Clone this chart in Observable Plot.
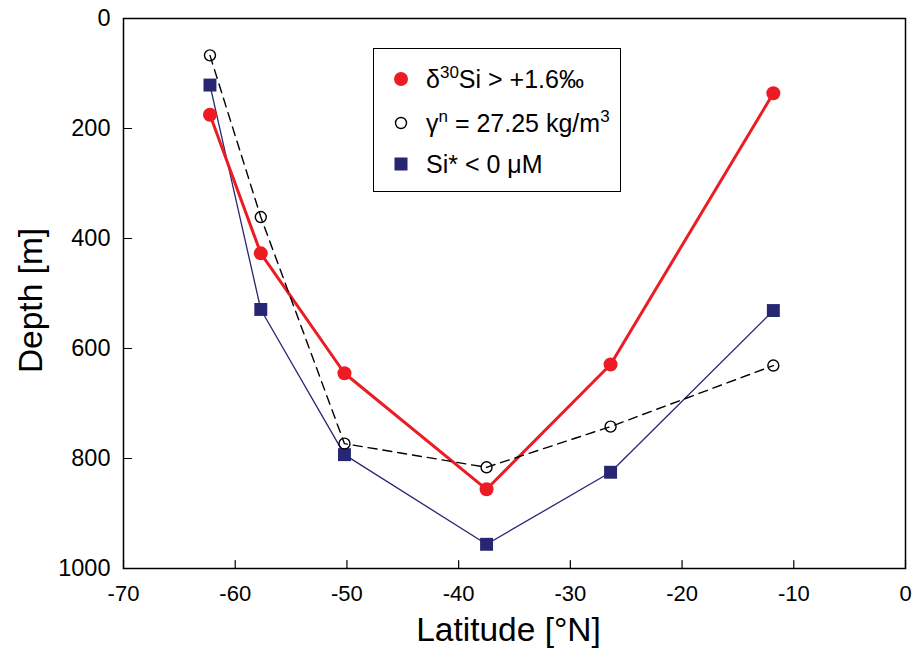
<!DOCTYPE html>
<html>
<head>
<meta charset="utf-8">
<script src="https://cdn.jsdelivr.net/npm/d3@7"></script>
<script src="https://cdn.jsdelivr.net/npm/@observablehq/plot@0.6"></script>
<style>
  html, body { margin: 0; padding: 0; background: #fff; }
  #wrap { position: relative; width: 913px; height: 658px; font-family: "Liberation Sans", Arial, sans-serif; }
  #legend { position: absolute; left: 373px; top: 48px; width: 246px; height: 142px; border: 1.5px solid #000; background: #fff; box-sizing: content-box; overflow: hidden; }
  .row { position: absolute; left: 0; height: 30px; display: flex; align-items: center; font-size: 25px; color: #000; white-space: nowrap; }
  .row svg { margin-left: 16px; margin-right: 14px; }
  sup { font-size: 17px; vertical-align: 0; position: relative; top: -10px; }
</style>
</head>
<body>
<div id="wrap">
  <div id="chart"></div>
  <div id="legend">
    <div class="row" style="top:15px"><svg width="22" height="22"><circle cx="11" cy="11" r="7" fill="#ec1c24"/></svg><span>&delta;<sup>30</sup>Si &gt; +1.6&permil;</span></div>
    <div class="row" style="top:59px"><svg width="22" height="22"><circle cx="11" cy="11" r="5.5" fill="none" stroke="#000" stroke-width="1.4"/></svg><span>&gamma;<sup>n</sup> = 27.25 kg/m<sup>3</sup></span></div>
    <div class="row" style="top:100px"><svg width="22" height="22"><rect x="4.5" y="4.5" width="13" height="13" fill="#262673"/></svg><span>Si* &lt; 0 &mu;M</span></div>
  </div>
</div>
<script>
// Data
const latitude = [-62.26, -57.71, -50.22, -37.5, -26.4, -11.83];
const delta30SiDepth = [175, 427, 645, 856, 629, 136];
const gammaNDepth = [67, 361, 773, 816, 742, 631];
const siStarDepth = [121, 529, 793, 956, 825, 531];
const xTicks = [-70, -60, -50, -40, -30, -20, -10, 0];
const yTicks = [0, 200, 400, 600, 800, 1000];

const red = latitude.map((x, i) => ({x, y: delta30SiDepth[i]}));
const gam = latitude.map((x, i) => ({x, y: gammaNDepth[i]}));
const sis = latitude.map((x, i) => ({x, y: siStarDepth[i]}));

const tickShape = { draw(context, l) { context.moveTo(0, 0); context.lineTo(0, -l); } };

const chart = Plot.plot({
  width: 913,
  height: 658,
  marginLeft: 123,
  marginRight: 8,
  marginTop: 18,
  marginBottom: 90,
  style: { fontFamily: "Liberation Sans, Arial, sans-serif", background: "#fff", color: "#000" },
  x: { domain: [-70, 0] },
  y: { domain: [0, 1000], reverse: true },
  marks: [
    Plot.frame({ stroke: "#000", strokeWidth: 1.5 }),
    // inward ticks
    Plot.vector(xTicks, { x: d => d, frameAnchor: "bottom", length: 8, rotate: 0, anchor: "start", shape: tickShape, stroke: "#000", strokeWidth: 1.2 }),
    Plot.vector(yTicks, { y: d => d, frameAnchor: "left", length: 8, rotate: 90, anchor: "start", shape: tickShape, stroke: "#000", strokeWidth: 1.2 }),
    Plot.axisX({ ticks: xTicks, tickSize: 0, tickPadding: 17, tickFormat: d => String(d), fontSize: 22, label: null }),
    Plot.axisY({ ticks: yTicks, tickSize: 0, tickPadding: 13, tickFormat: d => String(d), fontSize: 23.5, label: null }),
    Plot.text(["Latitude [°N]"], { frameAnchor: "bottom", dy: 72, dx: -6, fontSize: 33.5, text: d => d }),
    Plot.text(["Depth [m]"], { frameAnchor: "left", dx: -92, dy: 7, rotate: -90, textAnchor: "middle", fontSize: 33.5, text: d => d }),
    // Si* series
    Plot.line(sis, { x: "x", y: "y", stroke: "#262673", strokeWidth: 1.3 }),
    Plot.dot(sis, { x: "x", y: "y", symbol: "square", r: 7.3, fill: "#262673" }),
    // delta30Si series
    Plot.line(red, { x: "x", y: "y", stroke: "#ec1c24", strokeWidth: 3 }),
    Plot.dot(red, { x: "x", y: "y", r: 7, fill: "#ec1c24" }),
    // gamma n series
    Plot.line(gam, { x: "x", y: "y", stroke: "#000", strokeWidth: 1.4, strokeDasharray: "9,6" }),
    Plot.dot(gam, { x: "x", y: "y", r: 5.5, fill: "none", stroke: "#000", strokeWidth: 1.4 })
  ]
});
document.getElementById("chart").appendChild(chart);
</script>
</body>
</html>
